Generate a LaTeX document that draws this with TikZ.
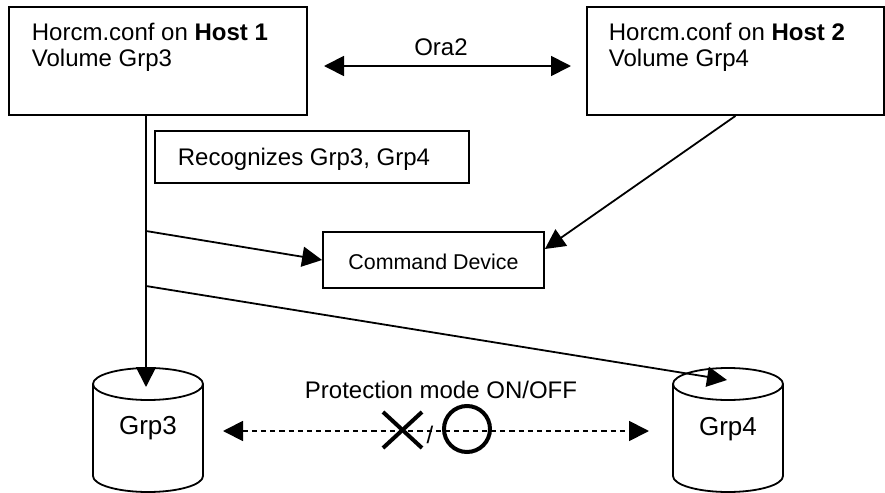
\documentclass[tikz,border=0pt]{standalone}
\usepackage{fontspec}
\setmainfont{Liberation Sans}
\usetikzlibrary{arrows.meta,calc}
\begin{document}
\begin{tikzpicture}[x=0.5pt,y=-0.5pt,
  line width=0.9pt,
  >={Triangle[length=10pt,width=10pt]},
  box/.style={draw, line width=0.9pt, inner sep=0pt},
  lbl/.style={font=\fontsize{12}{14}\selectfont, inner sep=0pt},
  small/.style={font=\fontsize{10.7}{13}\selectfont, inner sep=0pt},
  drumlbl/.style={font=\fontsize{13}{15}\selectfont, inner sep=0pt},
  statesym/.style={line width=2pt},
  link/.style={dash pattern=on 2.6pt off 2pt}]
\useasboundingbox (0,0) rectangle (885,493);

% host configuration boxes
\node[box, minimum width=149pt, minimum height=54pt] (h1) at (158,61) {};
\node[box, minimum width=148.5pt, minimum height=54pt] (h2) at (735.5,61) {};
\node[lbl, anchor=base west] (h1a) at (31,40) {Horcm.conf on \textbf{Host 1}};
\node[lbl, anchor=base west] (h1b) at (31,66) {Volume Grp3};
\node[lbl, anchor=base west] (h2a) at (608,40) {Horcm.conf on \textbf{Host 2}};
\node[lbl, anchor=base west] (h2b) at (608,66) {Volume Grp4};

% Ora2 link between the hosts
\coordinate (oraL) at (324,66);
\coordinate (oraR) at (571,66);
\draw[<->] (oraL) -- (oraR);
\node[lbl, anchor=base] (ora) at (441,55) {Ora2};

% note box and command device
\node[box, minimum width=157pt, minimum height=26pt] (rec) at (312,157) {};
\node[lbl, anchor=base west] (rect) at (177,165) {Recognizes Grp3, Grp4};
\node[box, minimum width=110.5pt, minimum height=28pt] (cmd) at (433.5,260) {};
\node[small, anchor=base] (cmdt) at (433.5,269) {Command Device};

% volume cylinders
\foreach \c/\n in {148/3, 728/4}{
  \draw[fill=white] (\c-55,384) -- (\c-55,476)
    arc[start angle=180, end angle=360, x radius=27.5pt, y radius=8pt]
    -- (\c+55,384);
  \draw (\c,384) ellipse[x radius=27.5pt, y radius=8pt];
}
\node[drumlbl, anchor=base] (g3) at (148,434) {Grp3};
\node[drumlbl, anchor=base] (g4) at (728,435) {Grp4};
\coordinate (g3top) at (146,387);
\coordinate (g4top) at (727,380);

% connectors from Host 1
\coordinate (v0) at (146,115);
\coordinate (b1) at (146,231);
\coordinate (b2) at (146,286);
\draw[->] (v0) -- (g3top);
\draw[->] (b1) -- (cmd.west);
\draw[->] (b2) -- (g4top);

% connector from Host 2
\draw[->] (h2.south) -- ([yshift=5.5pt]cmd.east);

% protection mode link
\coordinate (pL) at (223,431);
\coordinate (pR) at (649,431);
\draw[<->, link] (pL) -- (pR);
\node[lbl, anchor=base] (prot) at (441,398) {Protection mode ON/OFF};
\draw[statesym] (383,412) -- (422,448);
\draw[statesym] (383,448) -- (422,412);
\node[lbl, anchor=base] (slash) at (430,443) {/};
\draw[statesym] (467,429) circle[radius=11.5pt];
\end{tikzpicture}
\end{document}
